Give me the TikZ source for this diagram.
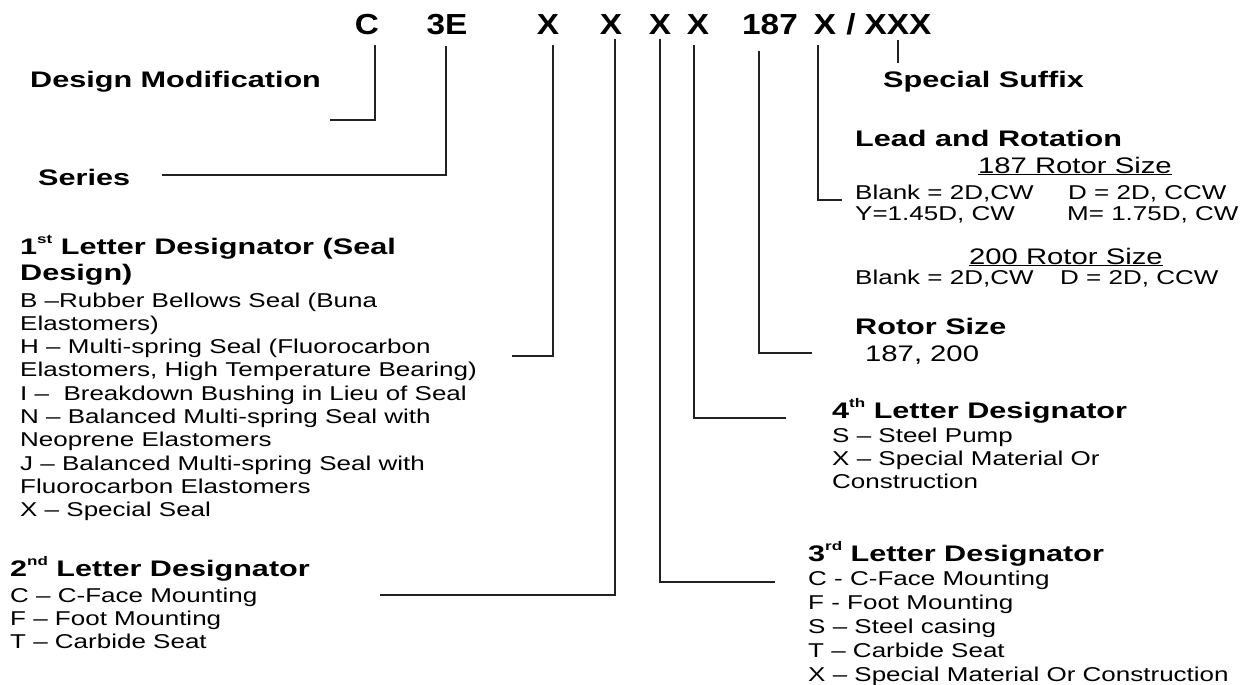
\documentclass[tikz,border=0pt]{standalone}
\usepackage{fontspec}
\newfontfamily\codefont[FakeStretch=1.15]{Liberation Sans}
\newfontfamily\headfont[FakeStretch=1.36]{Liberation Sans}
\newfontfamily\bodyfont[FakeStretch=1.3]{Liberation Sans}
\definecolor{lnDark}{HTML}{222222}
\newcommand{\ordsup}[1]{\raisebox{.45em}{\fontsize{12.5}{12.5}\selectfont #1}}
% multi-line nodes sit on the baseline of their last line
\tikzset{
  code/.style={anchor=base, inner sep=0pt, font=\codefont\bfseries\fontsize{29}{32}\selectfont},
  head/.style={anchor=base west, inner sep=0pt, align=left, font=\headfont\bfseries\fontsize{22.5}{26.5}\selectfont},
  body/.style={anchor=base west, inner sep=0pt, align=left, font=\bodyfont\fontsize{20}{23.3}\selectfont},
  bigbody/.style={body, font=\bodyfont\fontsize{22.5}{25}\selectfont},
  leader/.style={draw=lnDark, line width=1.8pt},
}

\begin{document}
\begin{tikzpicture}[x=1pt, y=-1pt]
  \useasboundingbox (0,0) rectangle (1247,685);

  % ---- model code ----
  \node[code] (cC)   at (367,35) {C};
  \node[code] (cE)   at (447,35) {3E};
  \node[code] (cX1)  at (548,35) {X};
  \node[code] (cX2)  at (611,35) {X};
  \node[code] (cX3)  at (660,35) {X};
  \node[code] (cX4)  at (698,35) {X};
  \node[code] (c187) at (770,35) {187};
  \node[code] (cX5)  at (825,35) {X};
  \node[code] (cSl)  at (851,35) {/};
  \node[code] (cXXX) at (898,35) {XXX};

  % ---- left side ----
  \node[head] (dmod)   at (30,88)  {Design Modification};
  \node[head] (series) at (38,185) {Series};
  \node[head] (seal)   at (20,280.5) {1\ordsup{st} Letter Designator (Seal\\Design)};
  \node[body] (sealB)  at (20,516.7) {B –Rubber Bellows Seal (Buna\\
    Elastomers)\\
    H – Multi-spring Seal (Fluorocarbon\\
    Elastomers, High Temperature Bearing)\\
    I –\ \ Breakdown Bushing in Lieu of Seal\\
    N – Balanced Multi-spring Seal with\\
    Neoprene Elastomers\\
    J – Balanced Multi-spring Seal with\\
    Fluorocarbon Elastomers\\
    X – Special Seal};
  \node[head] (mount)  at (10,576) {2\ordsup{nd} Letter Designator};
  \node[body] (mountB) at (10,648.6) {C – C-Face Mounting\\F – Foot Mounting\\T – Carbide Seat};

  % ---- right side ----
  \node[head] (suffix) at (883,88)  {Special Suffix};
  \node[head] (lead)   at (855,146) {Lead and Rotation};
  \node[bigbody] (r187t) at (978,173) {\underline{187 Rotor Size}};
  \node[body] (r187)   at (855,220) {\makebox[213pt][l]{Blank = 2D,CW}D = 2D, CCW\\[-2.3pt]
    \makebox[212pt][l]{Y=1.45D, CW}M= 1.75D, CW};
  \node[bigbody] (r200t) at (969,264) {\underline{200 Rotor Size}};
  \node[body] (r200)   at (855,284) {\makebox[205pt][l]{Blank = 2D,CW}D = 2D, CCW};
  \node[head] (rotor)  at (855,334) {Rotor Size};
  \node[bigbody] (rotorB) at (865,361) {187, 200};
  \node[head] (matl)   at (832,418) {4\ordsup{th} Letter Designator};
  \node[body] (matlB)  at (832,488.6) {S – Steel Pump\\X – Special Material Or\\Construction};
  \node[head] (frame)  at (808,561) {3\ordsup{rd} Letter Designator};
  \node[body] (frameB) at (808,681) {C - C-Face Mounting\\[.7pt]F - Foot Mounting\\[.7pt]S – Steel casing\\[.7pt]T – Carbide Seat\\[.7pt]X – Special Material Or Construction};

  % ---- leader ends ----
  \coordinate (eC)   at (330,120);
  \coordinate (eE)   at (162,175);
  \coordinate (eX1)  at (512,356);
  \coordinate (eX2)  at (380,595);
  \coordinate (eX3)  at (775,582);
  \coordinate (eX4)  at (786,418);
  \coordinate (e187) at (812,353);
  \coordinate (eX5)  at (842,200);

  % ---- leaders ----
  \draw[leader] ([xshift=8pt,yshift=-10pt]cC.south)    |- (eC);
  \draw[leader] ([xshift=-1pt,yshift=-10pt]cE.south)   |- (eE);
  \draw[leader] ([xshift=5pt,yshift=-10pt]cX1.south)   |- (eX1);
  \draw[leader] ([xshift=4pt,yshift=-4pt]cX2.south)    |- (eX2);
  \draw[leader] ([yshift=-4pt]cX3.south)               |- (eX3);
  \draw[leader] ([xshift=-4pt,yshift=-10pt]cX4.south)  |- (eX4);
  \draw[leader] ([xshift=-11pt,yshift=-16pt]c187.south) |- (e187);
  \draw[leader] ([xshift=-7pt,yshift=-10pt]cX5.south)  |- (eX5);
  \draw[leader] ([yshift=-5pt]cXXX.south) -- ([yshift=-28pt]cXXX.south);
\end{tikzpicture}
\end{document}
